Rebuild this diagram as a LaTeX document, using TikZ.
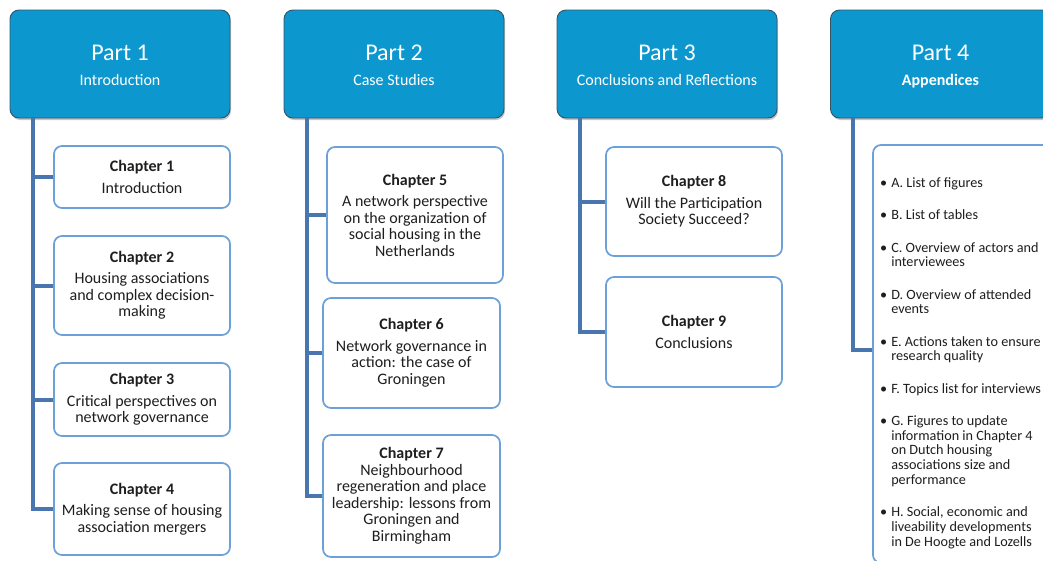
\documentclass[tikz,border=0pt]{standalone}
\usepackage{fontspec}
\setmainfont{Carlito}
\usetikzlibrary{shadows}

\definecolor{partblue}{RGB}{12,152,206}
\definecolor{partedge}{RGB}{52,84,102}
\definecolor{trunkblue}{RGB}{74,118,176}
\definecolor{chapedge}{RGB}{108,160,216}
\definecolor{inktext}{RGB}{30,30,30}

\tikzset{
  partbox/.style={rectangle, rounded corners=9pt, fill=partblue, draw=partedge,
    line width=0.9pt, minimum width=220pt, minimum height=108pt, inner sep=0pt,
    text=white, align=center, font=\fontsize{16}{25}\selectfont,
    drop shadow={opacity=0.45, shadow xshift=1pt, shadow yshift=-2pt}},
  chapbox/.style={rectangle, rounded corners=8pt, fill=white, draw=chapedge,
    line width=1.7pt, minimum width=176pt, inner sep=0pt, text=inktext,
    align=center, font=\fontsize{16}{16.5}\selectfont},
  trunk/.style={draw=trunkblue, line width=4pt},
}
\newcommand{\parttitle}[1]{{\fontsize{24}{25}\selectfont\rule{0pt}{20pt}#1}}
\newcommand{\partsub}[1]{#1\vphantom{Ap}}

\begin{document}
\begin{tikzpicture}[x=1pt,y=-1pt]
\useasboundingbox (0,0) rectangle (1043,560);
\clip (0,0) rectangle (1043,560);

% Part headers
\node[partbox] (p1) at (120,64)   {\parttitle{Part 1}\\\partsub{Introduction}};
\node[partbox] (p2) at (394,64)   {\parttitle{Part 2}\\\partsub{Case Studies}};
\node[partbox] (p3) at (667,64)   {\parttitle{Part 3}\\\partsub{Conclusions and Reflections}};
\node[partbox] (p4) at (940.5,64) {\parttitle{Part 4}\\\partsub{\textbf{Appendices}}};

% Trunk origins below each header
\coordinate (t1) at ([xshift=-87pt]p1.south);
\coordinate (t2) at ([xshift=-87pt]p2.south);
\coordinate (t3) at ([xshift=-87pt]p3.south);
\coordinate (t4) at ([xshift=-88pt]p4.south);

% Part 1 chapters
\node[chapbox, minimum height=62pt] (c1) at (142,177)   {\textbf{Chapter 1}\\[5pt]Introduction};
\node[chapbox, minimum height=99pt] (c2) at (142,285.5) {\textbf{Chapter 2}\\[5pt]Housing associations\\and complex decision-\\making};
\node[chapbox, minimum height=73pt] (c3) at (142,399.5) {\textbf{Chapter 3}\\[5pt]Critical perspectives on\\network governance};
\node[chapbox, minimum height=92pt] (c4) at (142,509)   {\textbf{Chapter 4}\\[5pt]Making sense of housing\\association mergers};

% Part 2 chapters
\node[chapbox, minimum height=136pt] (c5) at (415,215)   {\textbf{Chapter 5}\\[5pt]A network perspective\\on the organization of\\social housing in the\\Netherlands};
\node[chapbox, minimum height=110pt, minimum width=177pt] (c6) at (411.5,353) {\textbf{Chapter 6}\\[5pt]Network governance in\\action: the case of\\Groningen};
\node[chapbox, minimum height=122pt, minimum width=177pt] (c7) at (411.5,496) {\textbf{Chapter 7}\\Neighbourhood\\regeneration and place\\leadership: lessons from\\Groningen and\\Birmingham};

% Part 3 chapters
\node[chapbox, minimum height=109pt] (c8) at (694,201.5) {\textbf{Chapter 8}\\[5pt]Will the Participation\\Society Succeed?};
\node[chapbox, minimum height=110pt] (c9) at (694,332)   {\textbf{Chapter 9}\\[5pt]Conclusions};

% Part 4 appendix list box
\node[chapbox, minimum width=182pt, minimum height=418pt] (app) at (964,354) {};
\node[anchor=base west, inner sep=0pt, text=inktext, align=left,
      font=\fontsize{14.2}{14.75}\selectfont] (applist) at (880,187.5)
{\begin{tabular}[t]{@{}l@{\hspace{4pt}}l@{}}
\textbullet & A. List of figures\\[17.5pt]
\textbullet & B. List of tables\\[17.5pt]
\textbullet & C. Overview of actors and\\
            & interviewees\\[17.5pt]
\textbullet & D. Overview of attended\\
            & events\\[17.5pt]
\textbullet & E. Actions taken to ensure\\
            & research quality\\[17.5pt]
\textbullet & F. Topics list for interviews\\[17.5pt]
\textbullet & G. Figures to update\\
            & information in Chapter 4\\
            & on Dutch housing\\
            & associations size and\\
            & performance\\[17.5pt]
\textbullet & H. Social, economic and\\
            & liveability developments\\
            & in De Hoogte and Lozells
\end{tabular}};

% Connectors from each header to its chapters
\draw[trunk] (t1) |- (c1.west);
\draw[trunk] (t1) |- (c2.west);
\draw[trunk] (t1) |- (c3.west);
\draw[trunk] (t1) |- (c4.west);
\draw[trunk] (t2) |- (c5.west);
\draw[trunk] (t2) |- (c6.west);
\draw[trunk] (t2) |- (c7.west);
\draw[trunk] (t3) |- (c8.west);
\draw[trunk] (t3) |- (c9.west);
\draw[trunk] (t4) |- ([yshift=4pt]app.west);
\end{tikzpicture}
\end{document}
